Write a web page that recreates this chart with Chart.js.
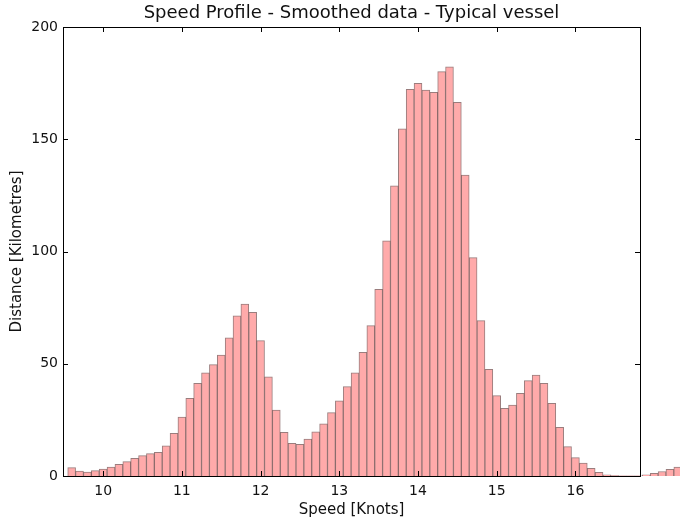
<!DOCTYPE html>
<html>
<head>
<meta charset="utf-8">
<script src="https://cdn.jsdelivr.net/npm/chart.js@4.4.1/dist/chart.umd.min.js"></script>
<style>
  html, body { margin: 0; padding: 0; background: #fff; }
  #wrap { width: 680px; height: 520px; }
</style>
</head>
<body>
<div id="wrap"><canvas id="speedChart"></canvas></div>
<script>
// bin centres (knots), 0.1 kn wide bins
const speedBins = [
  9.6, 9.7, 9.8, 9.9, 10.0, 10.1, 10.2, 10.3, 10.4, 10.5,
  10.6, 10.7, 10.8, 10.9, 11.0, 11.1, 11.2, 11.3, 11.4, 11.5,
  11.6, 11.7, 11.8, 11.9, 12.0, 12.1, 12.2, 12.3, 12.4, 12.5,
  12.6, 12.7, 12.8, 12.9, 13.0, 13.1, 13.2, 13.3, 13.4, 13.5,
  13.6, 13.7, 13.8, 13.9, 14.0, 14.1, 14.2, 14.3, 14.4, 14.5,
  14.6, 14.7, 14.8, 14.9, 15.0, 15.1, 15.2, 15.3, 15.4, 15.5,
  15.6, 15.7, 15.8, 15.9, 16.0, 16.1, 16.2, 16.3, 16.4, 16.5,
  16.6, 16.7, 16.8, 16.9, 17.0, 17.1, 17.2, 17.3
];
// distance per bin (km)
const distanceKm = [
  3.7, 2.2, 1.8, 2.4, 3.1, 4.0, 5.2, 6.4, 7.9, 9.1,
  10.0, 10.5, 13.4, 19.0, 26.3, 34.6, 41.3, 46.0, 49.6, 53.9,
  61.6, 71.4, 76.6, 72.9, 60.3, 44.2, 29.4, 19.5, 14.6, 14.1,
  16.5, 19.7, 23.2, 28.2, 33.5, 39.8, 46.0, 55.1, 67.0, 83.1,
  104.7, 129.3, 154.6, 172.2, 174.9, 171.9, 170.9, 180.1, 182.3, 166.5,
  134.0, 97.3, 69.2, 47.5, 35.8, 30.1, 31.6, 36.8, 42.5, 45.0,
  41.3, 32.4, 21.7, 13.1, 8.2, 5.7, 3.4, 1.6, 0.5, 0.15,
  0.05, 0.05, 0.1, 0.5, 1.2, 2.0, 3.0, 4.0
];
const xTicks = [10, 11, 12, 13, 14, 15, 16];
const yTicks = [0, 50, 100, 150, 200];

const FONT = 'DejaVu Sans';

// matplotlib-style box with inward ticks
const framePlugin = {
  id: 'frame',
  afterDatasetsDraw(chart) {
    const { ctx, chartArea: a, scales: { x, y } } = chart;
    ctx.save();
    ctx.strokeStyle = '#000';
    ctx.lineWidth = 1;
    ctx.beginPath();
    xTicks.forEach(v => {
      const px = Math.round(x.getPixelForValue(v)) + 0.5;
      ctx.moveTo(px, a.bottom); ctx.lineTo(px, a.bottom - 5);
      ctx.moveTo(px, a.top); ctx.lineTo(px, a.top + 5);
    });
    yTicks.forEach(v => {
      const py = Math.round(y.getPixelForValue(v)) + 0.5;
      ctx.moveTo(a.left, py); ctx.lineTo(a.left + 5, py);
      ctx.moveTo(a.right, py); ctx.lineTo(a.right - 5, py);
    });
    ctx.stroke();
    ctx.strokeRect(Math.round(a.left) + 0.5, Math.round(a.top) + 0.5,
      Math.round(a.right - a.left), Math.round(a.bottom - a.top));
    ctx.restore();
  }
};

new Chart(document.getElementById('speedChart'), {
  type: 'bar',
  data: {
    datasets: [{
      label: 'Distance',
      data: speedBins.map((s, i) => ({ x: s, y: distanceKm[i] })),
      backgroundColor: 'rgb(255, 170, 170)',
      borderColor: 'rgba(100, 55, 55, 0.65)',
      borderWidth: 1,
      barPercentage: 1,
      categoryPercentage: 1,
      clip: false
    }]
  },
  options: {
    responsive: true,
    maintainAspectRatio: false,
    animation: false,
    layout: { padding: { left: 0, right: 40, top: 0, bottom: 0 } },
    plugins: {
      legend: { display: false },
      tooltip: { enabled: false },
      title: {
        display: true,
        text: 'Speed Profile - Smoothed data - Typical vessel',
        fullSize: false,
        color: '#111',
        font: { family: FONT, size: 18, weight: 'normal' },
        padding: { top: 3, bottom: 2.4 }
      }
    },
    scales: {
      x: {
        type: 'linear',
        min: 9.49,
        max: 16.82,
        offset: false,
        grid: { display: false, drawTicks: false },
        border: { display: false },
        afterBuildTicks: s => { s.ticks = xTicks.map(v => ({ value: v })); },
        afterFit: s => { s.height = 44; },
        ticks: {
          autoSkip: false,
          maxRotation: 0,
          padding: 7,
          color: '#111',
          font: { family: FONT, size: 14 },
          callback: v => String(v)
        },
        title: {
          display: true,
          text: 'Speed [Knots]',
          color: '#111',
          font: { family: FONT, size: 15 },
          padding: { top: 0, bottom: 1 }
        }
      },
      y: {
        min: 0,
        max: 200,
        grid: { display: false, drawTicks: false },
        border: { display: false },
        afterBuildTicks: s => { s.ticks = yTicks.map(v => ({ value: v })); },
        afterFit: s => { s.width = 63; },
        ticks: {
          padding: 5,
          color: '#111',
          font: { family: FONT, size: 14 }
        },
        title: {
          display: true,
          text: 'Distance [Kilometres]',
          color: '#111',
          font: { family: FONT, size: 15 },
          padding: { top: 8, bottom: 0 }
        }
      }
    }
  },
  plugins: [framePlugin]
});
</script>
</body>
</html>
